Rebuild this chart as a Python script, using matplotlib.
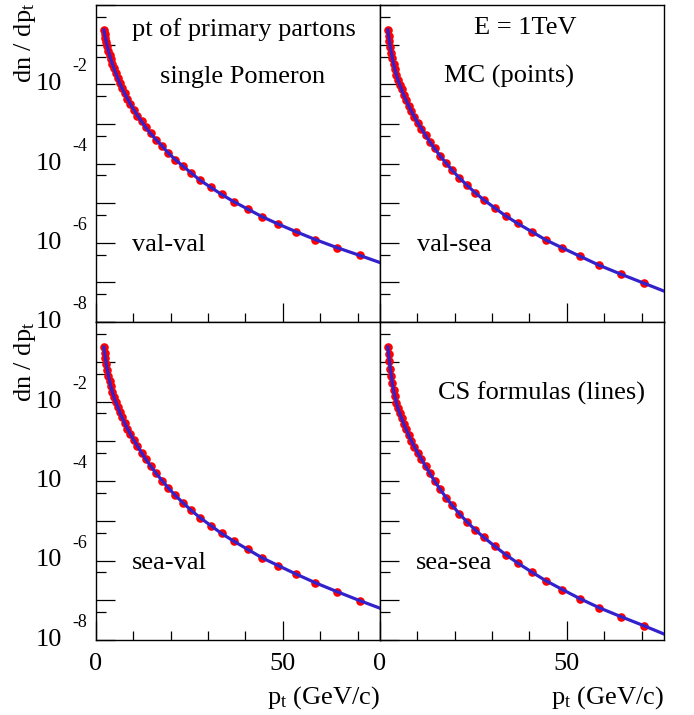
import matplotlib
matplotlib.use("Agg")
import matplotlib.pyplot as plt
from matplotlib.ticker import FixedLocator, NullFormatter
import numpy as np

plt.rcParams['font.family'] = ['Liberation Serif', 'DejaVu Serif']
plt.rcParams['mathtext.fontset'] = 'custom'
plt.rcParams['mathtext.rm'] = 'Liberation Serif'
plt.rcParams['mathtext.it'] = 'Liberation Serif:italic'

# pt bins of the MC points (GeV/c)
pt = [2.1, 2.29, 2.51, 2.75, 3.02, 3.32, 3.64, 3.99, 4.38, 4.81, 5.28, 5.79, 6.35,
      6.97, 7.65, 8.4, 9.2, 10.1, 11.1, 12.2, 13.3, 14.6, 16.1, 17.7, 19.3, 21.2,
      23.3, 25.5, 27.8, 30.7, 33.6, 36.8, 40.6, 44.4, 48.8, 53.5, 58.7, 64.4, 70.6]

# log10(dn/dpt)
val_val = [-0.63, -0.73, -0.83, -0.93, -1.04, -1.15, -1.26, -1.37, -1.49, -1.60,
           -1.72, -1.84, -1.97, -2.10, -2.23, -2.36, -2.50, -2.64, -2.79, -2.94,
           -3.09, -3.24, -3.40, -3.56, -3.73, -3.90, -4.07, -4.24, -4.42, -4.60,
           -4.78, -4.96, -5.15, -5.34, -5.53, -5.72, -5.92, -6.12, -6.32]
val_sea = [-0.63, -0.77, -0.91, -1.05, -1.20, -1.35, -1.49, -1.62, -1.76, -1.89,
           -2.01, -2.13, -2.27, -2.40, -2.54, -2.68, -2.82, -2.97, -3.12, -3.29,
           -3.45, -3.62, -3.81, -3.99, -4.17, -4.36, -4.55, -4.74, -4.92, -5.12,
           -5.32, -5.51, -5.72, -5.93, -6.13, -6.34, -6.57, -6.79, -7.02]
sea_val = [-0.63, -0.77, -0.91, -1.05, -1.20, -1.35, -1.49, -1.62, -1.76, -1.89,
           -2.01, -2.13, -2.27, -2.40, -2.54, -2.68, -2.82, -2.97, -3.12, -3.29,
           -3.45, -3.62, -3.81, -3.99, -4.17, -4.36, -4.55, -4.74, -4.92, -5.12,
           -5.32, -5.51, -5.72, -5.93, -6.13, -6.34, -6.56, -6.78, -7.01]
sea_sea = [-0.63, -0.80, -0.99, -1.17, -1.35, -1.54, -1.72, -1.87, -2.03, -2.17,
           -2.30, -2.42, -2.56, -2.70, -2.84, -2.99, -3.14, -3.29, -3.45, -3.63,
           -3.80, -4.00, -4.21, -4.42, -4.61, -4.82, -5.03, -5.23, -5.42, -5.64,
           -5.85, -6.06, -6.29, -6.51, -6.73, -6.96, -7.19, -7.41, -7.64]

# CS formula curves run on to the right edge
pt_end = 76.0
cs_end = [-6.50, -7.22, -7.20, -7.85]

labels = ["val-val", "val-sea", "sea-val", "sea-sea"]
series = [val_val, val_sea, sea_val, sea_sea]

W, H = 694, 715
fig = plt.figure(figsize=(W / 100, H / 100), dpi=100)

def box(x0, y0, x1, y1):
    return [x0 / W, 1 - y1 / H, (x1 - x0) / W, (y1 - y0) / H]

boxes = [box(96, 5, 380, 322), box(380, 5, 664, 322),
         box(96, 322, 380, 640), box(380, 322, 664, 640)]

FS = 19
for i, (b, lab, mc, end) in enumerate(zip(boxes, labels, series, cs_end)):
    ax = fig.add_axes(b)
    ax.set_yscale('log')
    ax.set_xlim(0, pt_end)
    ax.set_ylim(1e-8, 1)

    ax.plot(pt, 10.0 ** np.array(mc), 'o', color='#ff0000', ms=6.2, mew=0, zorder=2)
    ax.plot(pt + [pt_end], 10.0 ** np.array(mc + [end]), '-', color='#3322cc',
            lw=2.3, zorder=3, clip_on=True)

    ax.yaxis.set_major_locator(FixedLocator(10.0 ** np.arange(-8, 1)))
    ax.yaxis.set_minor_locator(FixedLocator(5 * 10.0 ** np.arange(-9, 0)))
    ax.yaxis.set_major_formatter(NullFormatter())
    ax.yaxis.set_minor_formatter(NullFormatter())
    ax.xaxis.set_major_locator(FixedLocator([0, 50]))
    ax.xaxis.set_minor_locator(FixedLocator([10, 20, 30, 40, 60, 70]))

    ax.tick_params(axis='y', which='major', direction='in', length=13.7, width=0.9,
                   left=True, right=False)
    ax.tick_params(axis='y', which='minor', direction='in', length=7.2, width=0.9,
                   left=True, right=False)
    ax.tick_params(axis='x', which='major', direction='in', length=13.7, width=0.9,
                   top=False, labelsize=FS, pad=9)
    ax.tick_params(axis='x', which='minor', direction='in', length=6.5, width=0.9,
                   top=False)
    if i < 2:
        ax.tick_params(axis='x', labelbottom=False)
    for s in ax.spines.values():
        s.set_linewidth(1.0)

    # ROOT style 10^k labels on the left pads
    if i % 2 == 0:
        for k in (-2, -4, -6, -8):
            ax.annotate("10", xy=(0, 10.0 ** k), xycoords=('axes fraction', 'data'),
                        xytext=(-24.5, 0), textcoords='offset points',
                        ha='right', va='center', fontsize=FS, annotation_clip=False)
            ax.annotate(str(k), xy=(0, 10.0 ** k), xycoords=('axes fraction', 'data'),
                        xytext=(-17.3, 12.5), textcoords='offset points',
                        ha='left', va='center', fontsize=13, annotation_clip=False)

def px_text(x, y, s, **kw):
    fig.text(x / W, 1 - y / H, s, fontsize=FS, **kw)

# panel annotations
px_text(244, 30, "pt of primary partons", ha='center', va='center')
px_text(243, 77, "single Pomeron", ha='center', va='center')
px_text(525, 28, "E = 1TeV", ha='center', va='center')
px_text(509, 76, "MC (points)", ha='center', va='center')
px_text(542, 393, "CS formulas (lines)", ha='center', va='center')
px_text(132, 245, "val-val", ha='left', va='center')
px_text(417, 245, "val-sea", ha='left', va='center')
px_text(132, 563, "sea-val", ha='left', va='center')
px_text(416, 563, "sea-sea", ha='left', va='center')

# axis titles
for ytop in (3, 322):
    px_text(25, ytop, r"dn / dp$_{\rm t}$", rotation=90, ha='center', va='top')
for xr in (380, 664):
    px_text(xr, 704, r"p$_{\rm t}$ (GeV/c)", ha='right', va='baseline')

fig.savefig("out.png", dpi=100)
